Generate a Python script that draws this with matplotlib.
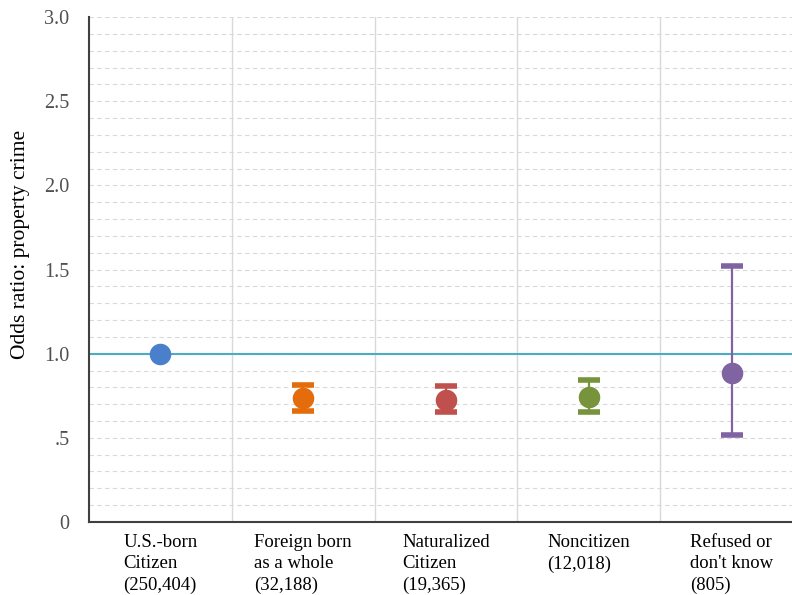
import matplotlib.pyplot as plt
import numpy as np

plt.rcParams['font.family'] = ['Liberation Serif', 'DejaVu Serif']

categories = ['U.S.-born\nCitizen\n(250,404)', 'Foreign born\nas a whole\n(32,188)',
              'Naturalized\nCitizen\n(19,365)', 'Noncitizen\n(12,018)',
              "Refused or\ndon't know\n(805)"]
odds = [1.0, 0.735, 0.725, 0.745, 0.885]
lower = [1.0, 0.66, 0.655, 0.655, 0.515]
upper = [1.0, 0.815, 0.805, 0.845, 1.52]
colors = ['#4a7fcc', '#e46c0a', '#c0504d', '#77933c', '#8064a2']

fig = plt.figure(figsize=(7.92, 5.95), dpi=100)
ax = fig.add_axes([0.1124, 0.1227, 0.9015, 0.8487])

x = np.arange(len(categories))

# gridlines
for yv in np.arange(0.1, 3.01, 0.1):
    ax.axhline(yv, color='#d9d9d9', lw=0.8, ls=(0, (4, 3)), zorder=0)
for xv in x[:-1] + 0.5:
    ax.axvline(xv, color='#d9d9d9', lw=1, zorder=0)

ax.axhline(1.0, color='#4bacc6', lw=1.5, zorder=1)

for i in x:
    if upper[i] > lower[i]:
        ax.errorbar(i, odds[i], yerr=[[odds[i] - lower[i]], [upper[i] - odds[i]]],
                    fmt='none', ecolor=colors[i], elinewidth=1.6, capsize=8,
                    capthick=4, zorder=2)
    ax.plot(i, odds[i], 'o', color=colors[i], markersize=14.5, zorder=3)

ax.set_xlim(-0.5, 4.5)
ax.set_ylim(0, 3.0)
ax.set_yticks([0, 0.5, 1.0, 1.5, 2.0, 2.5, 3.0])
ax.set_yticklabels(['0', '.5', '1.0', '1.5', '2.0', '2.5', '3.0'], fontsize=14.5, color='#505050')
ax.set_xticks(x)
ax.set_xticklabels(categories, fontsize=13.5, multialignment='left', linespacing=1.3)
ax.tick_params(axis='both', length=0)
ax.tick_params(axis='x', pad=9)
ax.tick_params(axis='y', pad=14)
ax.set_ylabel('Odds ratio: property crime', fontsize=15.5)
ax.yaxis.set_label_coords(-0.083, 0.55)

for s in ['top', 'right']:
    ax.spines[s].set_visible(False)
ax.spines['left'].set_color('#404040')
ax.spines['bottom'].set_color('#404040')
ax.spines['left'].set_linewidth(1.5)
ax.spines['bottom'].set_linewidth(1.5)

fig.savefig('out.png', dpi=100)
